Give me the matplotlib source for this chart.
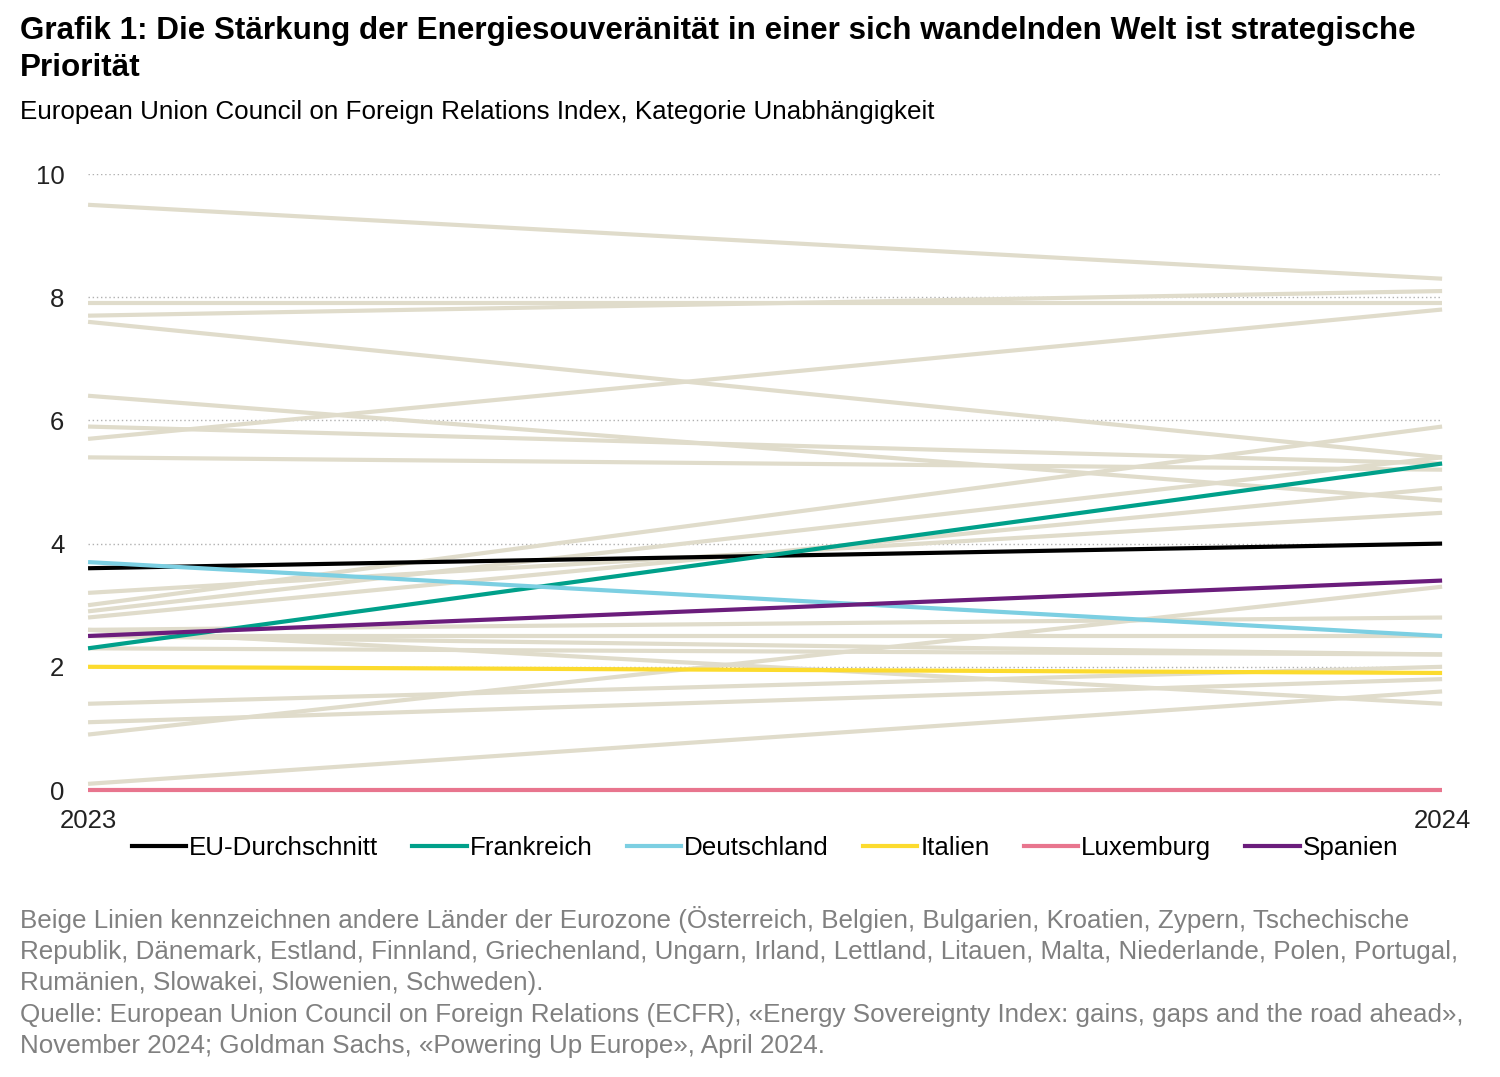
import matplotlib
matplotlib.use("Agg")
import matplotlib.pyplot as plt
from matplotlib.lines import Line2D

plt.rcParams['font.family'] = ['Liberation Sans', 'DejaVu Sans']

# --- Daten ---
years = [2023, 2024]

# andere Länder der Eurozone (beige), Werte 2023 / 2024
other_2023 = [9.5, 7.9, 7.7, 7.6, 6.4, 5.9, 5.7, 5.4, 3.2, 3.0, 2.9, 2.8,
              2.6, 2.5, 2.5, 2.3, 2.6, 1.4, 1.1, 0.9, 0.1]
other_2024 = [8.3, 7.9, 8.1, 5.4, 4.7, 5.3, 7.8, 5.2, 4.5, 5.9, 5.4, 4.9,
              2.8, 2.5, 2.2, 2.2, 1.4, 2.0, 1.8, 3.3, 1.6]

highlight_names = ['EU-Durchschnitt', 'Frankreich', 'Deutschland',
                   'Italien', 'Luxemburg', 'Spanien']
highlight_2023 = [3.6, 2.3, 3.7, 2.0, 0.0, 2.5]
highlight_2024 = [4.0, 5.3, 2.5, 1.9, 0.0, 3.4]
highlight_colors = ['#000000', '#00a08a', '#7ccfe2', '#fcdb2e', '#e8758e', '#6b1d7c']

beige = '#e0dccb'

title = ("Grafik 1: Die Stärkung der Energiesouveränität in einer sich wandelnden Welt ist strategische\n"
         "Priorität")
subtitle = "European Union Council on Foreign Relations Index, Kategorie Unabhängigkeit"
footnote = ("Beige Linien kennzeichnen andere Länder der Eurozone (Österreich, Belgien, Bulgarien, Kroatien, Zypern, Tschechische\n"
            "Republik, Dänemark, Estland, Finnland, Griechenland, Ungarn, Irland, Lettland, Litauen, Malta, Niederlande, Polen, Portugal,\n"
            "Rumänien, Slowakei, Slowenien, Schweden).\n"
            "Quelle: European Union Council on Foreign Relations (ECFR), «Energy Sovereignty Index: gains, gaps and the road ahead»,\n"
            "November 2024; Goldman Sachs, «Powering Up Europe», April 2024.")

# --- Figur ---
fig = plt.figure(figsize=(15, 10.77), dpi=100)
ax = fig.add_axes([0.0587, 1 - 790 / 1077, 0.9027, (790 - 174) / 1077])

for a, b in zip(other_2023, other_2024):
    ax.plot(years, [a, b], color=beige, lw=3, solid_capstyle='butt', clip_on=False, zorder=2)

handles = []
for name, a, b, c in zip(highlight_names, highlight_2023, highlight_2024, highlight_colors):
    ax.plot(years, [a, b], color=c, lw=3, solid_capstyle='butt', clip_on=False, zorder=3)
    handles.append(Line2D([0], [0], color=c, lw=3, label=name))

ax.set_xlim(2023, 2024)
ax.set_ylim(0, 10)
ax.set_xticks(years)
ax.set_xticklabels([str(y) for y in years])
ax.set_yticks([0, 2, 4, 6, 8, 10])
ax.tick_params(axis='both', length=0, labelsize=18.5, colors='#222222')
ax.tick_params(axis='x', pad=14)
ax.tick_params(axis='y', pad=17)
for s in ax.spines.values():
    s.set_visible(False)
ax.yaxis.grid(True, linestyle=(0, (1, 2)), color='#b0b0b0', lw=1)
ax.set_axisbelow(True)

fig.legend(handles=handles, loc='center', bbox_to_anchor=(0.51, 1 - 848 / 1077), ncol=6,
           frameon=False, fontsize=18.7, handlelength=2.1, handletextpad=0.12,
           columnspacing=1.3)

fig.text(20 / 1500, 1 - 16 / 1077, title, fontsize=22.6, fontweight='bold', va='top',
         ha='left', linespacing=1.3)
fig.text(20 / 1500, 1 - 112 / 1077, subtitle, fontsize=18.7, va='center', ha='left')
fig.text(20 / 1500, 1 - 906 / 1077, footnote, fontsize=18.7, va='top', ha='left',
         color='#808080', linespacing=1.38)

fig.savefig('out.png', dpi=100, facecolor='white')
